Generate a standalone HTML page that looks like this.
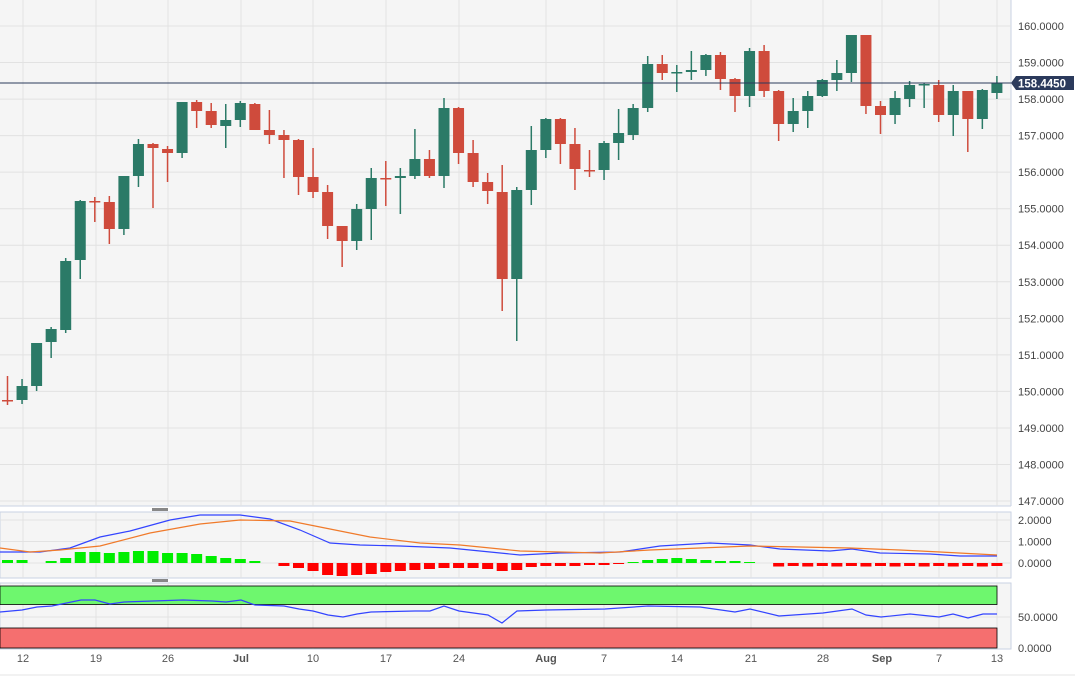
<!DOCTYPE html>
<html><head><meta charset="utf-8"><style>
html,body{margin:0;padding:0;background:#fff;}
svg{display:block;font-family:"Liberation Sans",sans-serif;}
</style></head><body>
<svg id="s" width="1089" height="681" xmlns="http://www.w3.org/2000/svg"></svg>
<script>
const s=document.getElementById('s');let h='';
// backgrounds
h+='<rect x="0" y="0" width="1011" height="506" fill="#f5f5f5"/>';
h+='<rect x="0" y="512" width="1011" height="66" fill="#f5f5f5" stroke="#c9d2e3"/>';
h+='<rect x="0" y="583" width="1011" height="66" fill="#f5f5f5" stroke="#c9d2e3"/>';
h+='<line x1="0" y1="506" x2="1011" y2="506" stroke="#c9d2e3"/><line x1="1011" y1="0" x2="1011" y2="506" stroke="#c9d2e3"/>';
// grid
const vx=[23,96,168,241,313,386,459,546,604,677,751,823,882,939,997];
for(let p=147;p<=160;p++){const y=26+(160-p)*36.54;h+=`<line x1="0" y1="${y}" x2="1011" y2="${y}" stroke="#e2e2e2"/>`;h+=`<text x="1018" y="${y+4}" font-size="11" fill="#444">${p}.0000</text>`;}
vx.forEach(x=>{h+=`<line x1="${x}" y1="0" x2="${x}" y2="506" stroke="#e2e2e2"/><line x1="${x}" y1="512" x2="${x}" y2="578" stroke="#e2e2e2"/><line x1="${x}" y1="583" x2="${x}" y2="649" stroke="#e2e2e2"/>`;});
[520,541.5,563].forEach(y=>h+=`<line x1="0" y1="${y}" x2="1011" y2="${y}" stroke="#e2e2e2"/>`);
h+='<line x1="0" y1="617" x2="1011" y2="617" stroke="#e2e2e2"/>';
// separator handles
h+='<rect x="152" y="508" width="16" height="3" fill="#888"/><rect x="152" y="579" width="16" height="3" fill="#888"/>';
// candles [top,bot,hi,lo,green]
const C=[[400,401,376,405,0],[386,400,379,404,1],[343,386,343,391,1],[329,342,327,358,1],[261,330,258,333,1],[201,260,200,279,1],[201,202,197,222,0],[202,229,196,244,0],[176,229,176,235,1],[144,176,139,187,1],[144,148,143,208,0],[149,153,146,182,0],[102,153,102,158,1],[102,111,100,128,0],[111,125,103,128,0],[120,126,104,148,1],[103,120,101,127,1],[104,130,103,130,0],[130,135,110,144,0],[135,140,130,178,0],[140,177,139,195,0],[177,192,148,198,0],[192,226,185,239,0],[226,241,226,267,0],[209,241,204,250,1],[178,209,168,240,1],[178,179,161,206,0],[176,178,168,214,1],[159,176,129,179,1],[159,176,150,178,0],[108,176,98,188,1],[108,153,107,164,0],[153,182,140,187,0],[182,191,173,204,0],[192,279,165,311,0],[190,279,187,341,1],[150,190,126,205,1],[119,150,118,158,1],[119,144,118,164,0],[144,169,128,190,0],[170,171,150,177,0],[143,170,141,180,1],[133,143,109,160,1],[108,135,104,140,1],[64,108,56,112,1],[64,73,55,80,0],[72,73,65,92,1],[70,72,51,80,1],[55,70,54,76,1],[55,79,52,90,0],[79,96,78,112,0],[51,96,48,107,1],[51,91,45,97,0],[91,124,90,141,0],[111,124,98,132,1],[96,111,91,128,1],[80,96,79,97,1],[73,80,60,91,1],[35,73,35,82,1],[35,106,35,114,0],[106,115,101,134,0],[98,115,91,124,1],[85,99,81,107,1],[84,85,83,108,1],[85,115,80,122,0],[91,115,85,136,1],[91,119,91,152,0],[90,119,89,129,1],[83,93,76,99,1]];
const X=i=>7.5+14.55*i;
C.forEach((c,i)=>{const x=X(i),col=c[4]?'#2b7a67':'#cf4b3c';
h+=`<line x1="${x}" y1="${c[2]}" x2="${x}" y2="${c[3]}" stroke="${col}" stroke-width="1.5"/>`;
h+=`<rect x="${x-5.5}" y="${c[0]}" width="11" height="${Math.max(1.5,c[1]-c[0])}" fill="${col}"/>`;});
// price line & tag
h+='<line x1="0" y1="83" x2="1011" y2="83" stroke="#2b3a5c" stroke-width="1"/>';
h+='<path d="M1011 83 L1016 76 L1074 76 L1074 90 L1016 90 Z" fill="#2b3a5c"/><text x="1018" y="87.5" font-size="11.5" font-weight="bold" fill="#fff">158.4450</text>';
// MACD histogram
const HB={8:-3,22:-3,37:0,52:-2,66:-5,81:-11,95:-11,110:-10,124:-11,139:-12,153:-12,168:-10,183:-10,197:-9,212:-7,226:-5,241:-4,255:-2,270:0,284:3,299:5,313:8,328:12,343:13,357:12,371:11,386:9,401:8,415:7,430:6,444:5,459:5,473:5,488:6,502:8,517:7,532:4,546:3,561:3,575:3,590:2,605:2,619:1,634:-1,648:-3,663:-4,677:-5,692:-4,706:-3,721:-2,735:-2,750:-1,764:0};
for(let i=0;i<69;i++){const x=X(i);let v=null;for(const k in HB){if(Math.abs(k-x)<4)v=HB[k];}if(v===null)v=(i%2?3.5:3);
if(Math.abs(v)<0.5)continue;const col=v<0?'#00ee00':'#ff0000';const y=v<0?563+v:563;
h+=`<rect x="${x-5.5}" y="${y}" width="11" height="${Math.abs(v)}" fill="${col}"/>`;}
const pl=(pts,col)=>`<polyline points="${pts.map(p=>p.join(',')).join(' ')}" fill="none" stroke="${col}" stroke-width="1.2"/>`;
h+=pl([[0,552],[40,552],[70,548],[100,537],[130,531],[170,520],[200,515],[240,515],[270,519],[300,530],[330,543],[360,545],[400,546],[450,548],[480,551],[520,555],[560,553],[620,552],[660,546],[710,543],[750,545],[780,549],[830,551],[852,549],[880,553],[930,554],[960,556],[997,556]],'#3344ff');
h+=pl([[0,548],[30,552],[60,550],[100,546],[150,533],[200,524],[240,520],[290,521],[330,529],[370,537],[420,543],[460,545],[520,551],[600,553],[650,550],[700,548],[750,546],[800,547],[850,548],[900,550],[940,552],[997,555]],'#f07a2a');
['2.0000','1.0000','0.0000'].forEach((t,k)=>h+=`<text x="1018" y="${[524,545.5,567][k]}" font-size="11" fill="#444">${t}</text>`);
// RSI bands
h+='<rect x="0" y="586" width="997" height="18.5" fill="#6ef76e" stroke="#000" stroke-width="0.8"/>';
h+='<rect x="0" y="628" width="997" height="20" fill="#f56f6f" stroke="#000" stroke-width="0.8"/>';
h+=pl([[0,612],[22,610],[37,607],[52,606],[81,600],[95,600],[110,604],[124,602],[153,601],[183,600],[212,601],[226,602],[241,600],[255,605],[284,606],[299,609],[313,611],[328,615],[343,617],[357,614],[371,612],[415,611],[430,611],[444,606],[459,611],[488,615],[502,623],[517,611],[546,610],[605,609],[648,606],[700,607],[735,612],[750,609],[779,616],[823,613],[852,609],[866,615],[881,617],[910,614],[939,617],[953,614],[968,618],[983,614],[997,614]],'#3344ff');
h+='<text x="1018" y="621" font-size="11" fill="#444">50.0000</text><text x="1018" y="652" font-size="11" fill="#444">0.0000</text>';
// x labels
const L=['12','19','26','Jul','10','17','24','Aug','7','14','21','28','Sep','7','13'];
L.forEach((t,k)=>{const b=(t=='Jul'||t=='Aug'||t=='Sep');h+=`<text x="${vx[k]}" y="662" font-size="11" fill="#555" text-anchor="middle" ${b?'font-weight="bold"':''}>${t}</text>`;});
h+='<line x1="0" y1="675" x2="1075" y2="675" stroke="#e6e6e6"/>';
s.innerHTML=h;
</script>
</body></html>
